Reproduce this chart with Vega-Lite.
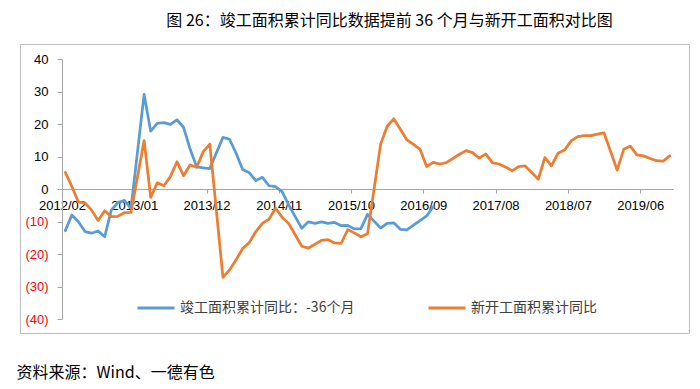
{
  "$schema": "https://vega.github.io/schema/vega-lite/v6.json",
  "width": 669,
  "height": 289,
  "autosize": {"type": "none"},
  "padding": {"left": 20, "top": 44, "right": 11, "bottom": 56},
  "background": "white",
  "config": {"view": {"stroke": "#BFBFBF", "strokeWidth": 1}, "font": "Noto Sans CJK SC"},
  "title": {"text": "图 26：竣工面积累计同比数据提前 36 个月与新开工面积对比图", "fontSize": 16, "fontWeight": "normal", "font": "Noto Sans CJK SC", "color": "#000000", "anchor": "middle", "dx": 35, "dy": 18, "offset": 17, "baseline": "bottom", "frame": "group"},
  "data": {"values": [
    {"m": "2012/02", "s": "竣工面积累计同比：-36个月", "v": -12.8},
    {"m": "2012/03", "s": "竣工面积累计同比：-36个月", "v": -8.0},
    {"m": "2012/04", "s": "竣工面积累计同比：-36个月", "v": -10.1},
    {"m": "2012/05", "s": "竣工面积累计同比：-36个月", "v": -13.1},
    {"m": "2012/06", "s": "竣工面积累计同比：-36个月", "v": -13.6},
    {"m": "2012/07", "s": "竣工面积累计同比：-36个月", "v": -12.9},
    {"m": "2012/08", "s": "竣工面积累计同比：-36个月", "v": -14.7},
    {"m": "2012/09", "s": "竣工面积累计同比：-36个月", "v": -6.5},
    {"m": "2012/10", "s": "竣工面积累计同比：-36个月", "v": -4.2},
    {"m": "2012/11", "s": "竣工面积累计同比：-36个月", "v": -3.5},
    {"m": "2012/12", "s": "竣工面积累计同比：-36个月", "v": -6.0},
    {"m": "2013/02", "s": "竣工面积累计同比：-36个月", "v": 29.1},
    {"m": "2013/03", "s": "竣工面积累计同比：-36个月", "v": 17.8},
    {"m": "2013/04", "s": "竣工面积累计同比：-36个月", "v": 20.2},
    {"m": "2013/05", "s": "竣工面积累计同比：-36个月", "v": 20.4},
    {"m": "2013/06", "s": "竣工面积累计同比：-36个月", "v": 19.9},
    {"m": "2013/07", "s": "竣工面积累计同比：-36个月", "v": 21.3},
    {"m": "2013/08", "s": "竣工面积累计同比：-36个月", "v": 19.0},
    {"m": "2013/09", "s": "竣工面积累计同比：-36个月", "v": 12.3},
    {"m": "2013/10", "s": "竣工面积累计同比：-36个月", "v": 6.8},
    {"m": "2013/11", "s": "竣工面积累计同比：-36个月", "v": 6.5},
    {"m": "2013/12", "s": "竣工面积累计同比：-36个月", "v": 6.3},
    {"m": "2014/02", "s": "竣工面积累计同比：-36个月", "v": 15.9},
    {"m": "2014/03", "s": "竣工面积累计同比：-36个月", "v": 15.3},
    {"m": "2014/04", "s": "竣工面积累计同比：-36个月", "v": 11.0},
    {"m": "2014/05", "s": "竣工面积累计同比：-36个月", "v": 6.0},
    {"m": "2014/06", "s": "竣工面积累计同比：-36个月", "v": 5.0},
    {"m": "2014/07", "s": "竣工面积累计同比：-36个月", "v": 2.6},
    {"m": "2014/08", "s": "竣工面积累计同比：-36个月", "v": 3.6},
    {"m": "2014/09", "s": "竣工面积累计同比：-36个月", "v": 1.0},
    {"m": "2014/10", "s": "竣工面积累计同比：-36个月", "v": 0.7},
    {"m": "2014/11", "s": "竣工面积累计同比：-36个月", "v": -0.8},
    {"m": "2014/12", "s": "竣工面积累计同比：-36个月", "v": -4.9},
    {"m": "2015/02", "s": "竣工面积累计同比：-36个月", "v": -12.1},
    {"m": "2015/03", "s": "竣工面积累计同比：-36个月", "v": -10.1},
    {"m": "2015/04", "s": "竣工面积累计同比：-36个月", "v": -10.6},
    {"m": "2015/05", "s": "竣工面积累计同比：-36个月", "v": -10.1},
    {"m": "2015/06", "s": "竣工面积累计同比：-36个月", "v": -10.6},
    {"m": "2015/07", "s": "竣工面积累计同比：-36个月", "v": -10.3},
    {"m": "2015/08", "s": "竣工面积累计同比：-36个月", "v": -11.3},
    {"m": "2015/09", "s": "竣工面积累计同比：-36个月", "v": -11.2},
    {"m": "2015/10", "s": "竣工面积累计同比：-36个月", "v": -12.3},
    {"m": "2015/11", "s": "竣工面积累计同比：-36个月", "v": -12.2},
    {"m": "2015/12", "s": "竣工面积累计同比：-36个月", "v": -7.8},
    {"m": "2016/02", "s": "竣工面积累计同比：-36个月", "v": -12.0},
    {"m": "2016/03", "s": "竣工面积累计同比：-36个月", "v": -10.6},
    {"m": "2016/04", "s": "竣工面积累计同比：-36个月", "v": -10.4},
    {"m": "2016/05", "s": "竣工面积累计同比：-36个月", "v": -12.4},
    {"m": "2016/06", "s": "竣工面积累计同比：-36个月", "v": -12.6},
    {"m": "2016/07", "s": "竣工面积累计同比：-36个月", "v": -11.1},
    {"m": "2016/08", "s": "竣工面积累计同比：-36个月", "v": -9.7},
    {"m": "2016/09", "s": "竣工面积累计同比：-36个月", "v": -8.3},
    {"m": "2016/10", "s": "竣工面积累计同比：-36个月", "v": -5.5},
    {"m": "2012/02", "s": "新开工面积累计同比", "v": 5.1},
    {"m": "2012/03", "s": "新开工面积累计同比", "v": 0.8},
    {"m": "2012/04", "s": "新开工面积累计同比", "v": -4.0},
    {"m": "2012/05", "s": "新开工面积累计同比", "v": -4.3},
    {"m": "2012/06", "s": "新开工面积累计同比", "v": -6.5},
    {"m": "2012/07", "s": "新开工面积累计同比", "v": -9.7},
    {"m": "2012/08", "s": "新开工面积累计同比", "v": -6.7},
    {"m": "2012/09", "s": "新开工面积累计同比", "v": -8.5},
    {"m": "2012/10", "s": "新开工面积累计同比", "v": -8.4},
    {"m": "2012/11", "s": "新开工面积累计同比", "v": -7.3},
    {"m": "2012/12", "s": "新开工面积累计同比", "v": -7.2},
    {"m": "2013/02", "s": "新开工面积累计同比", "v": 14.9},
    {"m": "2013/03", "s": "新开工面积累计同比", "v": -2.6},
    {"m": "2013/04", "s": "新开工面积累计同比", "v": 1.9},
    {"m": "2013/05", "s": "新开工面积累计同比", "v": 1.0},
    {"m": "2013/06", "s": "新开工面积累计同比", "v": 3.8},
    {"m": "2013/07", "s": "新开工面积累计同比", "v": 8.4},
    {"m": "2013/08", "s": "新开工面积累计同比", "v": 4.1},
    {"m": "2013/09", "s": "新开工面积累计同比", "v": 7.4},
    {"m": "2013/10", "s": "新开工面积累计同比", "v": 6.7},
    {"m": "2013/11", "s": "新开工面积累计同比", "v": 11.5},
    {"m": "2013/12", "s": "新开工面积累计同比", "v": 13.8},
    {"m": "2014/02", "s": "新开工面积累计同比", "v": -27.2},
    {"m": "2014/03", "s": "新开工面积累计同比", "v": -24.9},
    {"m": "2014/04", "s": "新开工面积累计同比", "v": -21.8},
    {"m": "2014/05", "s": "新开工面积累计同比", "v": -18.3},
    {"m": "2014/06", "s": "新开工面积累计同比", "v": -16.5},
    {"m": "2014/07", "s": "新开工面积累计同比", "v": -13.1},
    {"m": "2014/08", "s": "新开工面积累计同比", "v": -10.6},
    {"m": "2014/09", "s": "新开工面积累计同比", "v": -9.3},
    {"m": "2014/10", "s": "新开工面积累计同比", "v": -5.9},
    {"m": "2014/11", "s": "新开工面积累计同比", "v": -8.7},
    {"m": "2014/12", "s": "新开工面积累计同比", "v": -10.6},
    {"m": "2015/02", "s": "新开工面积累计同比", "v": -17.6},
    {"m": "2015/03", "s": "新开工面积累计同比", "v": -18.2},
    {"m": "2015/04", "s": "新开工面积累计同比", "v": -17.0},
    {"m": "2015/05", "s": "新开工面积累计同比", "v": -15.8},
    {"m": "2015/06", "s": "新开工面积累计同比", "v": -15.6},
    {"m": "2015/07", "s": "新开工面积累计同比", "v": -16.6},
    {"m": "2015/08", "s": "新开工面积累计同比", "v": -16.7},
    {"m": "2015/09", "s": "新开工面积累计同比", "v": -12.5},
    {"m": "2015/10", "s": "新开工面积累计同比", "v": -13.5},
    {"m": "2015/11", "s": "新开工面积累计同比", "v": -14.7},
    {"m": "2015/12", "s": "新开工面积累计同比", "v": -13.8},
    {"m": "2016/02", "s": "新开工面积累计同比", "v": 13.8},
    {"m": "2016/03", "s": "新开工面积累计同比", "v": 19.3},
    {"m": "2016/04", "s": "新开工面积累计同比", "v": 21.6},
    {"m": "2016/05", "s": "新开工面积累计同比", "v": 18.4},
    {"m": "2016/06", "s": "新开工面积累计同比", "v": 15.1},
    {"m": "2016/07", "s": "新开工面积累计同比", "v": 13.7},
    {"m": "2016/08", "s": "新开工面积累计同比", "v": 12.2},
    {"m": "2016/09", "s": "新开工面积累计同比", "v": 6.9},
    {"m": "2016/10", "s": "新开工面积累计同比", "v": 8.2},
    {"m": "2016/11", "s": "新开工面积累计同比", "v": 7.7},
    {"m": "2016/12", "s": "新开工面积累计同比", "v": 8.1},
    {"m": "2017/02", "s": "新开工面积累计同比", "v": 10.7},
    {"m": "2017/03", "s": "新开工面积累计同比", "v": 11.8},
    {"m": "2017/04", "s": "新开工面积累计同比", "v": 11.2},
    {"m": "2017/05", "s": "新开工面积累计同比", "v": 9.5},
    {"m": "2017/06", "s": "新开工面积累计同比", "v": 10.8},
    {"m": "2017/07", "s": "新开工面积累计同比", "v": 8.1},
    {"m": "2017/08", "s": "新开工面积累计同比", "v": 7.7},
    {"m": "2017/09", "s": "新开工面积累计同比", "v": 6.8},
    {"m": "2017/10", "s": "新开工面积累计同比", "v": 5.6},
    {"m": "2017/11", "s": "新开工面积累计同比", "v": 6.9},
    {"m": "2017/12", "s": "新开工面积累计同比", "v": 7.1},
    {"m": "2018/02", "s": "新开工面积累计同比", "v": 3.0},
    {"m": "2018/03", "s": "新开工面积累计同比", "v": 9.7},
    {"m": "2018/04", "s": "新开工面积累计同比", "v": 7.1},
    {"m": "2018/05", "s": "新开工面积累计同比", "v": 11.0},
    {"m": "2018/06", "s": "新开工面积累计同比", "v": 12.0},
    {"m": "2018/07", "s": "新开工面积累计同比", "v": 14.8},
    {"m": "2018/08", "s": "新开工面积累计同比", "v": 16.1},
    {"m": "2018/09", "s": "新开工面积累计同比", "v": 16.4},
    {"m": "2018/10", "s": "新开工面积累计同比", "v": 16.4},
    {"m": "2018/11", "s": "新开工面积累计同比", "v": 16.9},
    {"m": "2018/12", "s": "新开工面积累计同比", "v": 17.3},
    {"m": "2019/02", "s": "新开工面积累计同比", "v": 5.8},
    {"m": "2019/03", "s": "新开工面积累计同比", "v": 12.2},
    {"m": "2019/04", "s": "新开工面积累计同比", "v": 13.2},
    {"m": "2019/05", "s": "新开工面积累计同比", "v": 10.5},
    {"m": "2019/06", "s": "新开工面积累计同比", "v": 10.2},
    {"m": "2019/07", "s": "新开工面积累计同比", "v": 9.4},
    {"m": "2019/08", "s": "新开工面积累计同比", "v": 8.7},
    {"m": "2019/09", "s": "新开工面积累计同比", "v": 8.6},
    {"m": "2019/10", "s": "新开工面积累计同比", "v": 10.2}
  ]},
  "mark": {"type": "line", "strokeWidth": 2.75, "strokeJoin": "round", "strokeCap": "round"},
  "encoding": {
    "x": {
      "field": "m", "type": "ordinal", "sort": null,
      "scale": {"type": "point", "padding": 0.5, "range": [42, 653], "domain": [
        "2012/02","2012/03","2012/04","2012/05","2012/06","2012/07","2012/08","2012/09","2012/10","2012/11","2012/12",
        "2013/01","2013/02","2013/03","2013/04","2013/05","2013/06","2013/07","2013/08","2013/09","2013/10","2013/11","2013/12",
        "2014/01","2014/02","2014/03","2014/04","2014/05","2014/06","2014/07","2014/08","2014/09","2014/10","2014/11","2014/12",
        "2015/01","2015/02","2015/03","2015/04","2015/05","2015/06","2015/07","2015/08","2015/09","2015/10","2015/11","2015/12",
        "2016/01","2016/02","2016/03","2016/04","2016/05","2016/06","2016/07","2016/08","2016/09","2016/10","2016/11","2016/12",
        "2017/01","2017/02","2017/03","2017/04","2017/05","2017/06","2017/07","2017/08","2017/09","2017/10","2017/11","2017/12",
        "2018/01","2018/02","2018/03","2018/04","2018/05","2018/06","2018/07","2018/08","2018/09","2018/10","2018/11","2018/12",
        "2019/01","2019/02","2019/03","2019/04","2019/05","2019/06","2019/07","2019/08","2019/09","2019/10"
      ]},
      "axis": {
        "title": "资料来源：Wind、一德有色",
        "values": ["2012/02","2013/01","2013/12","2014/11","2015/10","2016/09","2017/08","2018/07","2019/06"],
        "offset": -144, "tickOffset": -3.285, "labelAngle": 0, "grid": false,
        "domainColor": "#A6A6A6", "tickColor": "#A6A6A6", "tickSize": 4, "labelPadding": 6,
        "labelFont": "Liberation Sans", "labelFontSize": 13, "labelColor": "#000000",
        "titleX": -4, "titleY": 183, "titleAlign": "left", "titleBaseline": "middle", "titleAngle": 0,
        "titleFont": "Noto Sans CJK SC", "titleFontSize": 16, "titleFontWeight": "normal", "titleColor": "#000000"
      }
    },
    "y": {
      "field": "v", "type": "quantitative",
      "scale": {"domain": [-40, 40], "range": [275, 15], "nice": false, "zero": false},
      "axis": {
        "title": null, "values": [-40, -30, -20, -10, 0, 10, 20, 30, 40],
        "offset": -42, "grid": false,
        "domainColor": "#A6A6A6", "tickColor": "#A6A6A6", "tickSize": 5, "labelPadding": 9,
        "labelExpr": "datum.value < 0 ? '(' + abs(datum.value) + ')' : datum.label",
        "labelColor": {"condition": {"test": "datum.value < 0", "value": "#FF0000"}, "value": "#000000"},
        "labelFont": "Liberation Sans", "labelFontSize": 13
      }
    },
    "color": {
      "field": "s", "type": "nominal",
      "scale": {"domain": ["竣工面积累计同比：-36个月", "新开工面积累计同比"], "range": ["#5B9BD5", "#ED7D31"]},
      "legend": {
        "orient": "none", "legendX": 116, "legendY": 244, "direction": "horizontal", "title": null,
        "symbolType": "stroke", "symbolSize": 1369, "symbolStrokeWidth": 3, "symbolOpacity": 1,
        "labelFont": "Noto Sans CJK SC", "labelFontSize": 14, "labelColor": "#404040", "labelLimit": 400,
        "labelOffset": 4, "columnPadding": 67, "padding": 0
      }
    }
  }
}
